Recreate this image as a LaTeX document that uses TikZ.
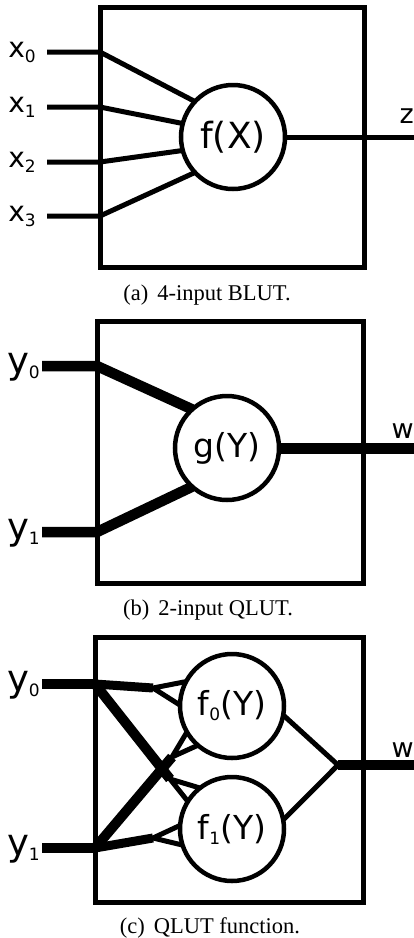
\documentclass[tikz,border=0pt]{standalone}
\usepackage{fontspec}
\setmainfont{Liberation Serif}
\newfontfamily\lblfont{DejaVu Sans}
\usetikzlibrary{positioning}

\newcommand{\lsub}[1]{\raisebox{-5pt}{\fontsize{17}{17}\selectfont #1}}

\begin{document}
\begin{tikzpicture}[
  x=1pt, y=-1pt,
  lutbox/.style={draw, line width=5pt, inner sep=0pt},
  fnode/.style={draw, circle, fill=white, line width=4.5pt, minimum size=104pt,
    inner sep=0pt, outer sep=0pt, font=\lblfont\fontsize{33}{33}\selectfont},
  wire/.style={line width=5pt},
  bus/.style={line width=10.5pt},
  xlbl/.style={inner sep=0pt, anchor=base east, font=\lblfont\fontsize{28}{28}\selectfont},
  ylbl/.style={inner sep=0pt, anchor=base east, font=\lblfont\fontsize{37}{37}\selectfont},
  outlbl/.style={inner sep=0pt, anchor=base east, font=\lblfont\fontsize{27}{27}\selectfont},
  caption/.style={font=\fontsize{22.5}{24}\selectfont},
]

\useasboundingbox (0,0) rectangle (414,938);

% === (a) 4-input BLUT ===
\node[lutbox, minimum width=264pt, minimum height=260pt] (boxA) at (232,137) {};
\node[fnode, font=\lblfont\fontsize{36}{36}\selectfont] (fX) at (233,137) {f(X)};

\foreach \i/\y/\a in {0/52/137, 1/107/165, 2/162/195, 3/216/223} {
  \coordinate (ax\i) at (47,\y);
  \coordinate (bx\i) at (100,\y);
  \node[xlbl] (lx\i) at (36,\y+5) {x\lsub{\i}};
  \draw[wire] (ax\i) -- (bx\i) -- (fX.\a);
}

\coordinate (zout) at (414,137);
\draw[wire] (fX.east) -- (zout);
\node[outlbl] (lz) at (414,123) {z};

\node[caption] (capA) at (207,295) {(a)\hspace{0.4em}4-input BLUT.};

% === (b) 2-input QLUT ===
\node[lutbox, minimum width=266pt, minimum height=262pt] (boxB) at (230,452) {};
\node[fnode] (gY) at (227,448) {g(Y)};

\foreach \i/\y/\a in {0/366/132, 1/532/228} {
  \coordinate (ay\i) at (42,\y);
  \coordinate (by\i) at (97,\y);
  \node[ylbl] (ly\i) at (40,\y+7) {y\lsub{\i}};
  \draw[bus] (ay\i) -- (by\i) -- (gY.\a);
}

\coordinate (wB) at (414,448);
\draw[bus, line width=11pt] (gY.east) -- (wB);
\node[outlbl] (lwB) at (414,438) {w};

\node[caption] (capB) at (208,610) {(b)\hspace{0.4em}2-input QLUT.};

% === (c) QLUT function ===
\node[lutbox, minimum width=268pt, minimum height=265pt] (boxC) at (229,769.5) {};
\node[fnode] (f0) at (232,706) {f\lsub{0}(Y)};
\node[fnode] (f1) at (232,829) {f\lsub{1}(Y)};

\coordinate (cy0a) at (42,684);
\coordinate (cy0b) at (95,684);
\coordinate (cy1a) at (42,848);
\coordinate (cy1b) at (95,848);
\coordinate (fk0) at (153,688);  % y0 -> f0
\coordinate (fk1) at (153,838);  % y1 -> f1
\coordinate (dk0) at (170,779);  % y0 -> f1
\coordinate (dk1) at (172,757);  % y1 -> f0
\coordinate (jn) at (338,765);
\coordinate (wC) at (414,765);

\node[ylbl] (lcy0) at (40,691) {y\lsub{0}};
\node[ylbl] (lcy1) at (40,855) {y\lsub{1}};

\draw[bus] (cy0a) -- (cy0b);
\draw[bus] (cy1a) -- (cy1b);
\draw[bus, line width=9pt] (cy0b) -- (fk0);
\draw[bus, line width=9pt] (cy1b) -- (fk1);
\draw[bus, line width=10pt] (cy0b) -- (dk0);
\draw[bus, line width=10pt] (cy1b) -- (dk1);

\draw[wire] (f0.152) -- (fk0) -- (f0.179);
\draw[wire] (f1.176) -- (fk1) -- (f1.198);
\draw[wire] (f1.128) -- (dk0) -- (f1.148);
\draw[wire] (f0.210) -- (dk1) -- (f0.229);

\draw[wire] (f0.-10) -- (jn) -- (f1.10);
\draw[bus] (jn) -- (wC);
\node[outlbl] (lwC) at (414,757) {w};

\node[caption] (capC) at (210,928) {(c)\hspace{0.4em}QLUT function.};

\end{tikzpicture}
\end{document}
